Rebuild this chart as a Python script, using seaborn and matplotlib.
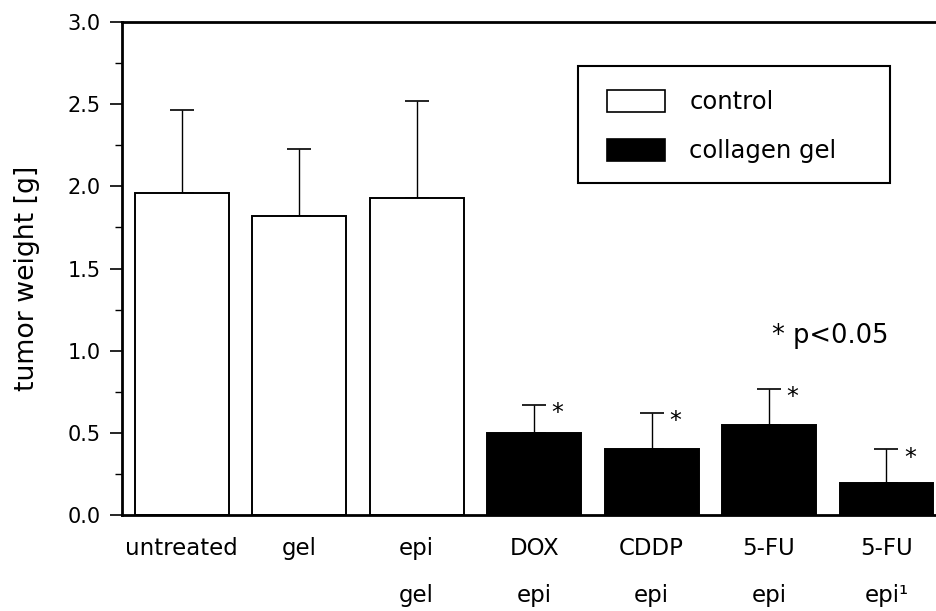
import matplotlib
matplotlib.use("Agg")
import matplotlib.pyplot as plt
import seaborn as sns
import pandas as pd
from matplotlib.ticker import MultipleLocator, FormatStrFormatter
from matplotlib.patches import Rectangle

categories = ["untreated", "gel", "epi\ngel", "DOX\nepi", "CDDP\nepi", "5-FU\nepi", "5-FU\nepi\u00b9"]
groups = ["control", "control", "control", "collagen gel", "collagen gel", "collagen gel", "collagen gel"]
means = [1.96, 1.82, 1.93, 0.50, 0.40, 0.55, 0.195]
errors = [0.505, 0.405, 0.59, 0.17, 0.22, 0.22, 0.205]
significant = [False, False, False, True, True, True, True]

df = pd.DataFrame({"category": categories, "group": groups, "mean": means})

sns.set_theme(style="white")
plt.rcParams["font.family"] = ["DejaVu Sans"]
plt.rcParams["text.color"] = "black"
plt.rcParams["axes.labelcolor"] = "black"
plt.rcParams["xtick.color"] = "black"
plt.rcParams["ytick.color"] = "black"

fig = plt.figure(figsize=(9.37, 6.11), dpi=100)
ax = fig.add_axes([0.130, 0.157, 0.870, 0.807])

sns.barplot(data=df, x="category", y="mean", hue="group", dodge=False,
            palette={"control": "white", "collagen gel": "black"},
            edgecolor="black", linewidth=1.4, width=0.8, ax=ax, errorbar=None)

xs = list(range(len(categories)))
ax.errorbar(xs, means, yerr=[[0] * len(errors), errors], fmt="none",
            ecolor="black", elinewidth=1.0, capsize=8.5, capthick=1.2, zorder=0.5)

for x, m, e, s in zip(xs, means, errors, significant):
    if s:
        ax.text(x + 0.15, m + e - 0.05, "*", fontsize=17, ha="left", va="center",
                color="black")

ax.text(5.52, 1.09, "* p<0.05", fontsize=18.5, ha="center", va="center", color="black")

ax.set_ylim(0, 3.0)
ax.set_xlim(-0.51, 6.43)
ax.yaxis.set_major_locator(MultipleLocator(0.5))
ax.yaxis.set_minor_locator(MultipleLocator(0.25))
ax.yaxis.set_major_formatter(FormatStrFormatter("%.1f"))
ax.tick_params(axis="y", which="major", direction="out", length=9, width=1.2,
               labelsize=15, pad=6, left=True, color="black", labelcolor="black")
ax.tick_params(axis="y", which="minor", direction="out", length=5, width=1.0,
               left=True, color="black")
ax.tick_params(axis="x", length=0, labelsize=16.5, pad=16, labelcolor="black")
for t in ax.get_xticklabels():
    t.set_linespacing(2.3)
    t.set_va("top")

ax.set_xlabel("")
ax.set_ylabel("tumor weight [g]", fontsize=19.3, labelpad=20, color="black")
ax.yaxis.label.set_y(0.481)

for side in ["left", "top", "bottom"]:
    ax.spines[side].set_visible(True)
    ax.spines[side].set_color("black")
ax.spines["left"].set_linewidth(2.0)
ax.spines["top"].set_linewidth(2.0)
ax.spines["bottom"].set_linewidth(2.0)
ax.spines["right"].set_visible(False)

# legend frame
ax.add_patch(Rectangle((0.5595, 0.6735), 0.383, 0.2375, transform=ax.transAxes,
                       facecolor="white", edgecolor="black", linewidth=1.5, zorder=4))
leg = ax.legend(loc="upper left", bbox_to_anchor=(0.595, 0.863), fontsize=17.5,
                frameon=False, handlelength=2.4, handleheight=1.07,
                labelspacing=1.0, borderpad=0.0, handletextpad=1.0,
                borderaxespad=0)
leg.set_zorder(5)
for text in leg.get_texts():
    text.set_color("black")
for h in leg.legend_handles:
    h.set_edgecolor("black")
    h.set_linewidth(1.2)

fig.savefig("out.png", dpi=100)
